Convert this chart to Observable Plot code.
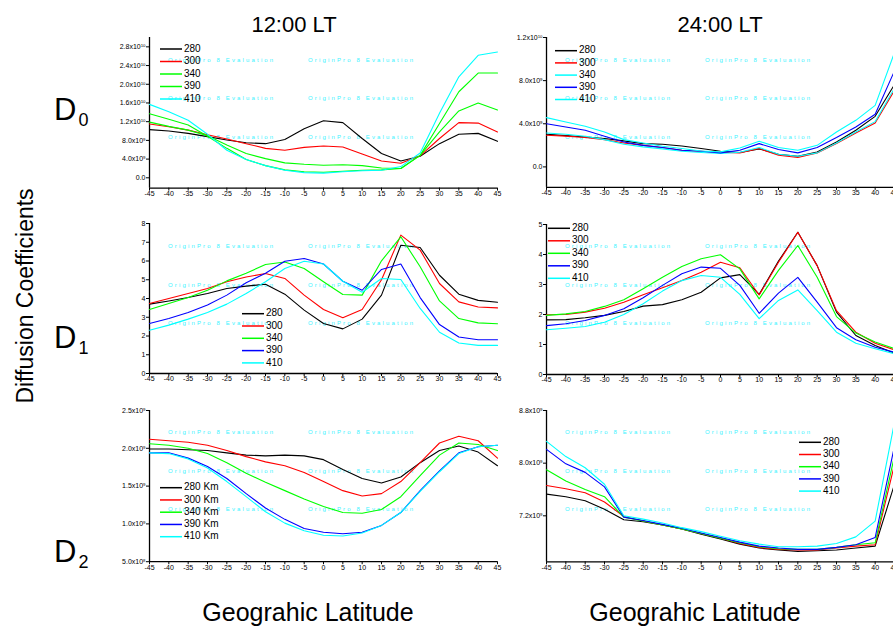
<!DOCTYPE html>
<html><head><meta charset="utf-8">
<script src="https://cdn.jsdelivr.net/npm/d3@7"></script>
<script src="https://cdn.jsdelivr.net/npm/@observablehq/plot@0.6"></script>
<style>
body{margin:0;background:#fff;}
#wrap{position:relative;width:893px;height:633px;overflow:hidden;background:#fff;font-family:"Liberation Sans",Arial,sans-serif;}
#wrap svg{position:absolute;}
</style></head><body><div id="wrap"></div>
<script>
// Geographic latitude (x)
const lats = [-45,-40,-35,-30,-25,-20,-15,-10,-5,0,5,10,15,20,25,30,35,40,45];
const altitudes = ["280","300","340","390","410"];
const altitudesKm = ["280 Km","300 Km","340 Km","390 Km","410 Km"];

// D0 at 12:00 LT (x10^9)
const d0Noon280 = [10.3,10.0,9.5,8.8,8.1,7.5,7.3,8.2,10.5,12.2,11.8,8.4,5.2,3.6,4.6,7.3,9.3,9.5,7.8];
const d0Noon300 = [11.5,10.9,10.2,9.2,8.3,7.3,6.3,5.9,6.5,6.8,6.6,5.1,3.6,3.1,4.7,8.4,11.8,11.7,9.8];
const d0Noon340 = [11.9,11.0,10.2,9.0,7.0,5.2,4.1,3.2,2.9,2.7,2.8,2.6,2.1,2.0,4.8,9.8,14.3,16.0,14.5];
const d0Noon390 = [13.7,12.5,11.3,8.9,6.3,3.9,2.6,1.7,1.3,1.2,1.4,1.6,1.7,2.0,4.8,11.6,18.4,22.4,22.4];
const d0Noon410 = [15.7,14.1,12.3,9.3,5.9,3.9,2.6,1.6,1.1,1.0,1.3,1.5,1.6,2.4,5.3,13.8,21.6,26.2,26.9];
// D0 at 24:00 LT (x10^9)
const d0Night280 = [3.03,2.90,2.78,2.63,2.41,2.16,2.10,1.94,1.70,1.45,1.33,1.67,1.18,0.99,1.39,2.31,3.40,4.69,7.63];
const d0Night300 = [2.94,2.85,2.72,2.53,2.22,2.00,1.80,1.55,1.45,1.36,1.30,1.70,1.08,0.87,1.30,2.16,3.15,4.07,7.10];
const d0Night340 = [3.15,3.03,2.84,2.53,2.10,1.86,1.67,1.45,1.33,1.24,1.36,1.80,1.18,0.99,1.30,2.22,3.24,4.20,7.30];
const d0Night390 = [4.00,3.70,3.40,2.84,2.31,2.00,1.80,1.55,1.45,1.30,1.55,2.16,1.61,1.30,1.80,2.72,3.70,4.88,8.90];
const d0Night410 = [4.57,4.17,3.77,3.24,2.53,2.22,1.92,1.70,1.48,1.39,1.76,2.38,1.80,1.55,2.00,3.24,4.32,5.71,10.6];
// D1 at 12:00 LT
const d1Noon280 = [3.70,3.87,4.05,4.27,4.53,4.66,4.76,4.23,3.38,2.67,2.38,2.90,4.18,6.84,6.72,5.24,4.23,3.90,3.80];
const d1Noon300 = [3.73,4.00,4.27,4.53,4.89,5.15,5.33,5.07,4.18,3.41,2.97,3.41,5.00,7.38,6.58,4.80,3.82,3.55,3.50];
const d1Noon340 = [3.41,3.73,4.05,4.44,4.94,5.35,5.81,5.95,5.60,4.89,4.21,4.18,6.01,7.29,5.69,3.87,2.93,2.70,2.65];
const d1Noon390 = [2.67,2.93,3.25,3.65,4.18,4.84,5.35,5.99,6.13,5.84,4.92,4.44,5.55,5.84,4.05,2.61,1.95,1.80,1.80];
const d1Noon410 = [2.31,2.58,2.90,3.25,3.70,4.27,4.89,5.60,5.99,5.84,4.92,4.33,5.07,5.01,3.47,2.20,1.63,1.50,1.50];
// D1 at 24:00 LT
const d1Night280 = [1.82,1.83,1.89,1.97,2.10,2.28,2.33,2.49,2.74,3.22,3.33,2.67,3.78,4.74,3.63,2.08,1.30,0.97,0.71];
const d1Night300 = [1.99,2.00,2.08,2.21,2.41,2.66,2.89,3.13,3.41,3.74,3.56,2.65,3.74,4.74,3.63,2.13,1.41,1.04,0.82];
const d1Night340 = [1.97,2.02,2.10,2.27,2.49,2.86,3.24,3.60,3.86,3.99,3.52,2.52,3.47,4.30,3.24,1.93,1.38,1.08,0.86];
const d1Night390 = [1.63,1.69,1.80,1.97,2.19,2.56,2.97,3.36,3.58,3.54,2.97,2.04,2.71,3.24,2.41,1.56,1.16,0.91,0.74];
const d1Night410 = [1.49,1.54,1.60,1.74,2.00,2.36,2.78,3.13,3.30,3.24,2.67,1.86,2.47,2.82,2.13,1.41,1.04,0.86,0.69];
// D2 at 12:00 LT (x10^9)
const d2Noon280 = [1.99,1.99,1.98,1.97,1.94,1.91,1.90,1.91,1.90,1.85,1.72,1.60,1.54,1.62,1.81,1.97,2.03,1.95,1.77];
const d2Noon300 = [2.12,2.10,2.08,2.04,1.97,1.89,1.82,1.77,1.68,1.56,1.44,1.37,1.40,1.56,1.81,2.07,2.16,2.10,1.87];
const d2Noon340 = [2.06,2.04,2.00,1.93,1.81,1.67,1.55,1.44,1.33,1.23,1.15,1.14,1.19,1.36,1.64,1.91,2.07,2.05,1.97];
const d2Noon390 = [1.94,1.94,1.87,1.76,1.60,1.40,1.21,1.06,0.94,0.89,0.87,0.89,0.98,1.15,1.44,1.70,1.94,2.02,2.04];
const d2Noon410 = [1.94,1.93,1.86,1.74,1.56,1.36,1.16,1.01,0.91,0.85,0.84,0.88,0.98,1.15,1.43,1.69,1.93,2.02,2.04];
// D2 at 24:00 LT (x10^9)
const d2Night280 = [7.53,7.49,7.43,7.30,7.14,7.11,7.06,7.00,6.92,6.85,6.77,6.71,6.68,6.66,6.67,6.68,6.71,6.74,7.68];
const d2Night300 = [7.66,7.61,7.55,7.41,7.19,7.12,7.06,7.00,6.93,6.86,6.78,6.72,6.69,6.68,6.68,6.71,6.74,6.76,7.98];
const d2Night340 = [7.90,7.73,7.60,7.49,7.18,7.12,7.06,7.00,6.93,6.86,6.79,6.73,6.70,6.69,6.69,6.72,6.76,6.79,8.11];
const d2Night390 = [8.21,7.99,7.86,7.64,7.18,7.13,7.07,7.01,6.94,6.87,6.80,6.74,6.71,6.69,6.69,6.72,6.76,6.87,8.26];
const d2Night410 = [8.33,8.10,7.93,7.68,7.20,7.15,7.09,7.02,6.96,6.89,6.82,6.77,6.73,6.73,6.74,6.78,6.88,7.12,8.62];

// y tick values and labels
const d0NoonTicks = [0,4,8,12,16,20,24,28];
const d0NoonTickLabels = ["0.0","4.0x10^9","8.0x10^9","1.2x10^10","1.6x10^10","2.0x10^10","2.4x10^10","2.8x10^10"];
const d0NightTicks = [0,4,8,12];
const d0NightTickLabels = ["0.0","4.0x10^9","8.0x10^9","1.2x10^10"];
const d1NoonTicks = [0,1,2,3,4,5,6,7,8];
const d1NoonTickLabels = ["0","1","2","3","4","5","6","7","8"];
const d1NightTicks = [0,1,2,3,4,5];
const d1NightTickLabels = ["0","1","2","3","4","5"];
const d2NoonTicks = [0.5,1.0,1.5,2.0,2.5];
const d2NoonTickLabels = ["5.0x10^8","1.0x10^9","1.5x10^9","2.0x10^9","2.5x10^9"];
const d2NightTicks = [7.2,8.0,8.8];
const d2NightTickLabels = ["7.2x10^9","8.0x10^9","8.8x10^9"];

const BLACK="#000000", RED="#ff0000", GREEN="#00ff00", BLUE="#0000ff", CYAN="#00ffff";
const wrap = d3.select("#wrap");
const FONT = "Liberation Sans, Arial, sans-serif";

// background watermark layer
const bg = wrap.append("svg").attr("width",893).attr("height",633).style("left","0px").style("top","0px");
const wmX = [[168,308],[565,705]];
const wmY = [[60,98.5,137],[246,285,323.5],[432.5,471.3,509.2]];
wmY.forEach(rows => rows.forEach(y => wmX.forEach(cols => cols.forEach(x => {
  bg.append("text").attr("x",x).attr("y",y).attr("dominant-baseline","middle")
    .attr("font-family",FONT).attr("font-size",6).attr("letter-spacing",2.15)
    .attr("fill","#3cf3ff").text("OriginPro 8 Evaluation");
}))));

function panel(p){
  const mL=48, mR=4, mT=6, mB=16;
  const w = p.x1 - p.x0, h = p.yBottom - p.yTop;
  const rows = [];
  p.series.forEach((vals,i)=> vals.forEach((v,j)=> rows.push({lat: lats[j], v: v, s: altitudes[i]})));
  const chart = Plot.plot({
    width: mL+w+mR, height: mT+h+mB,
    marginLeft:mL, marginRight:mR, marginTop:mT, marginBottom:mB,
    style: {background:"transparent", overflow:"visible", fontFamily:FONT, color:"black"},
    x: {domain:[-45,45], label:null},
    y: {domain:p.yDomain, label:null},
    color: {domain: altitudes, range: p.colors},
    marks: [
      Plot.axisX({ticks: lats, tickFormat: d=>String(d), tickSize:3, tickPadding:0, fontSize:7, label:null}),
      Plot.axisY({ticks: p.ticks, tickFormat: d=>p.tickLabels[p.ticks.indexOf(d)], tickSize:3, tickPadding:1, fontSize:7, label:null}),
      Plot.ruleX([-45],{stroke:"black", strokeWidth:1.3}),
      Plot.ruleY([p.yDomain[0]],{stroke:"black", strokeWidth:1.3}),
      Plot.line(rows,{x:"lat", y:"v", z:"s", stroke:"s", strokeWidth:1.1})
    ]
  });
  chart.style.position="absolute";
  chart.style.left=(p.x0-mL)+"px";
  chart.style.top=(p.yTop-mT)+"px";
  d3.select(chart).selectAll("text").each(function(){
    const t = this.textContent;
    if (t.includes("^")) {
      const [base, ex] = t.split("^");
      const sel = d3.select(this);
      sel.text(base);
      sel.append("tspan").attr("dy","-0.45em").attr("font-size","0.62em").text(ex);
    }
  });
  wrap.node().appendChild(chart);
}

panel({x0:149,x1:497,yTop:37.4,yBottom:188,yDomain:[-2.2,30],ticks:d0NoonTicks,tickLabels:d0NoonTickLabels,
  series:[d0Noon280,d0Noon300,d0Noon340,d0Noon390,d0Noon410],colors:[BLACK,RED,GREEN,GREEN,CYAN]});
panel({x0:546,x1:894,yTop:37.3,yBottom:187.2,yDomain:[-1.9,12],ticks:d0NightTicks,tickLabels:d0NightTickLabels,
  series:[d0Night280,d0Night300,d0Night340,d0Night390,d0Night410],colors:[BLACK,RED,CYAN,BLUE,CYAN]});
panel({x0:149,x1:497,yTop:223.3,yBottom:373.3,yDomain:[0,8],ticks:d1NoonTicks,tickLabels:d1NoonTickLabels,
  series:[d1Noon280,d1Noon300,d1Noon340,d1Noon390,d1Noon410],colors:[BLACK,RED,GREEN,BLUE,CYAN]});
panel({x0:546,x1:894,yTop:224,yBottom:374,yDomain:[0,5],ticks:d1NightTicks,tickLabels:d1NightTickLabels,
  series:[d1Night280,d1Night300,d1Night340,d1Night390,d1Night410],colors:[BLACK,RED,GREEN,BLUE,CYAN]});
panel({x0:149,x1:497,yTop:410,yBottom:561.2,yDomain:[0.5,2.5],ticks:d2NoonTicks,tickLabels:d2NoonTickLabels,
  series:[d2Noon280,d2Noon300,d2Noon340,d2Noon390,d2Noon410],colors:[BLACK,RED,GREEN,BLUE,CYAN]});
panel({x0:546,x1:894,yTop:409.6,yBottom:561,yDomain:[6.5,8.8],ticks:d2NightTicks,tickLabels:d2NightTickLabels,
  series:[d2Night280,d2Night300,d2Night340,d2Night390,d2Night410],colors:[BLACK,RED,GREEN,BLUE,CYAN]});

// foreground text layer
const fg = wrap.append("svg").attr("width",893).attr("height",633).style("left","0px").style("top","0px")
  .attr("font-family",FONT);

function legend(x, y0, dy, labels, colors){
  labels.forEach((lab,i)=>{
    const y = y0 + i*dy;
    fg.append("line").attr("x1",x).attr("x2",x+22).attr("y1",y).attr("y2",y)
      .attr("stroke",colors[i]).attr("stroke-width",1.5);
    fg.append("text").attr("x",x+24).attr("y",y).attr("dominant-baseline","middle")
      .attr("font-size",10).attr("fill","#000").text(lab);
  });
}
legend(160,49,12.5,altitudes,[BLACK,RED,GREEN,GREEN,CYAN]);
legend(555,50.7,12.2,altitudes,[BLACK,RED,CYAN,BLUE,CYAN]);
legend(242,313.7,12.3,altitudes,[BLACK,RED,GREEN,BLUE,CYAN]);
legend(548,228.3,12.5,altitudes,[BLACK,RED,GREEN,BLUE,CYAN]);
legend(160,487.7,12.25,altitudesKm,[BLACK,RED,GREEN,BLUE,CYAN]);
legend(799,442.3,12.2,altitudes,[BLACK,RED,GREEN,BLUE,CYAN]);

// titles
fg.append("text").attr("x",294).attr("y",32).attr("text-anchor","middle").attr("font-size",22).text("12:00 LT");
fg.append("text").attr("x",720).attr("y",32).attr("text-anchor","middle").attr("font-size",22).text("24:00 LT");
fg.append("text").attr("x",308).attr("y",621).attr("text-anchor","middle").attr("font-size",25).text("Geograhic Latitude");
fg.append("text").attr("x",695).attr("y",621).attr("text-anchor","middle").attr("font-size",25).text("Geograhic Latitude");
fg.append("text").attr("transform","translate(33,296) rotate(-90)").attr("text-anchor","middle").attr("font-size",23).text("Diffusion Coefficients");

// D labels
[["0",120],["1",348],["2",562]].forEach(([sub,yb])=>{
  const t = fg.append("text").attr("x",54).attr("y",yb).attr("font-size",31);
  t.append("tspan").text("D");
  t.append("tspan").attr("dy",6).attr("dx",2).attr("font-size",18).text(sub);
});
</script></body></html>
